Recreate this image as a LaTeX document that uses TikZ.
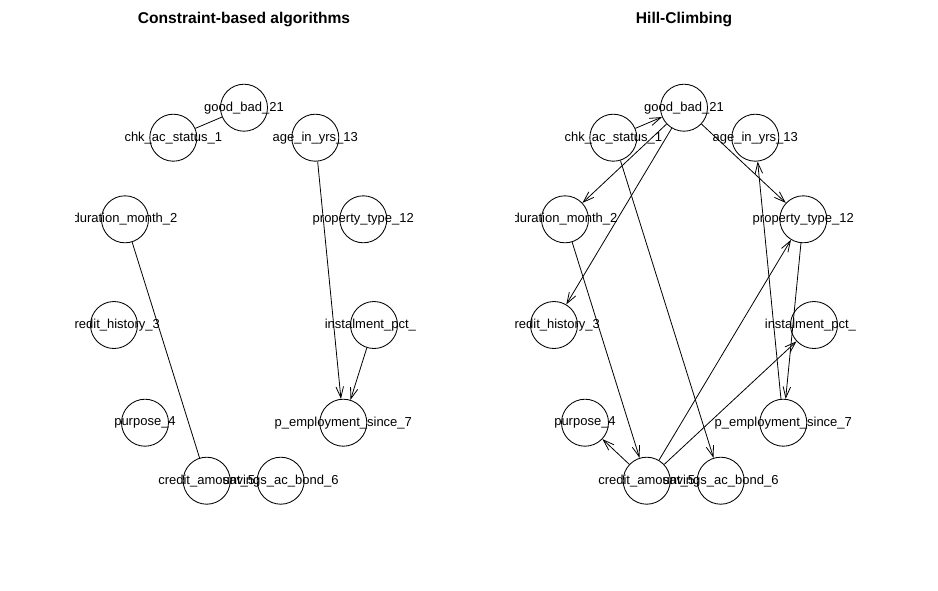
\documentclass[tikz,border=0pt]{standalone}
\usepackage{fontspec}
\setmainfont{Liberation Sans}
\usetikzlibrary{arrows.meta}
\newcommand\mknodes[2]{%
  \node[vnode,label={[lbl]center:good\_bad\_21}] (#2good) at (#1+244,107.7) {};
  \node[vnode,label={[lbl]center:chk\_ac\_status\_1}] (#2chk) at (#1+173.3,137.7) {};
  \node[vnode,label={[lbl]center:age\_in\_yrs\_13}] (#2age) at (#1+315.3,137.7) {};
  \node[vnode,label={[lbl]center:duration\_month\_2}] (#2dur) at (#1+125,219.3) {};
  \node[vnode,label={[lbl]center:property\_type\_12}] (#2prop) at (#1+363.3,219.3) {};
  \node[vnode,label={[lbl]center:credit\_history\_3}] (#2hist) at (#1+114,325) {};
  \node[vnode,label={[lbl]center:instalment\_pct\_8}] (#2inst) at (#1+374,325) {};
  \node[vnode,label={[lbl]center:purpose\_4}] (#2purp) at (#1+145,422.7) {};
  \node[vnode,label={[lbl]center:p\_employment\_since\_7}] (#2emp) at (#1+343.3,422.7) {};
  \node[vnode,label={[lbl]center:credit\_amount\_5}] (#2cred) at (#1+206.7,480.7) {};
  \node[vnode,label={[lbl]center:savings\_ac\_bond\_6}] (#2sav) at (#1+280.7,480.7) {};
}
\begin{document}
\begin{tikzpicture}[x=1pt,y=-1pt,
  vnode/.style={circle,draw,minimum size=47pt,inner sep=0pt,line width=0.85pt},
  lbl/.style={font=\fontsize{13}{13}\selectfont,inner sep=0pt},
  ttl/.style={font=\fontsize{15.6}{16}\selectfont\bfseries,inner sep=0pt},
  arc/.style={line width=0.8pt,-{Straight Barb[length=11pt,width=7.5pt]}},
  und/.style={line width=0.8pt}]
\useasboundingbox (0,0) rectangle (938,590);
\node[ttl] (t1) at (244,19) {Constraint-based algorithms};
\node[ttl] (t2) at (684,19) {Hill-Climbing};
% left panel
\begin{scope}
  \clip (75,40) rectangle (415.8,507);
  \mknodes{0}{L}
  \draw[und] (Lchk) -- (Lgood);
  \draw[arc] (Lage) -- (Lemp);
  \draw[arc] (Linst) -- (Lemp);
  \draw[und] (Ldur) -- (Lcred);
\end{scope}
% right panel
\begin{scope}
  \clip (515,40) rectangle (855.8,507);
  \mknodes{440}{R}
  \draw[arc] (Rchk) -- (Rgood);
  \draw[arc] (Rgood) -- (Rdur);
  \draw[arc] (Rgood) -- (Rhist);
  \draw[arc] (Rgood) -- (Rprop);
  \draw[arc] (Rchk) -- (Rsav);
  \draw[arc] (Rdur) -- (Rcred);
  \draw[arc] (Remp) -- (Rage);
  \draw[arc] (Rcred) -- (Rprop);
  \draw[arc] (Rprop) -- (Remp);
  \draw[arc] (Rcred) -- (Rinst);
  \draw[arc] (Rcred) -- (Rpurp);
\end{scope}
\end{tikzpicture}
\end{document}
